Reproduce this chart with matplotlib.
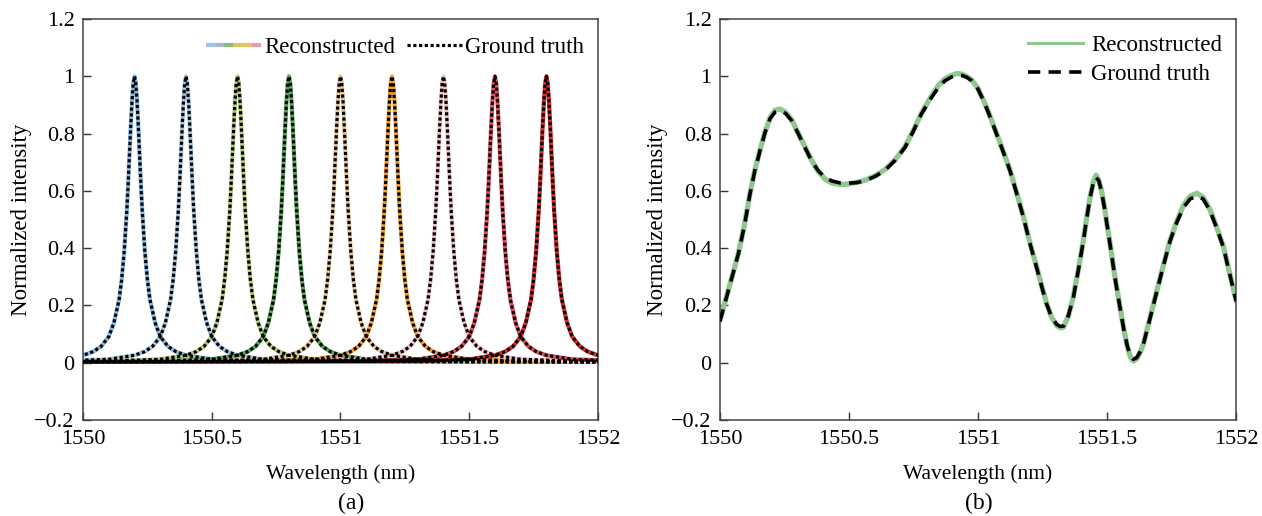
import matplotlib
matplotlib.use("Agg")
import matplotlib.pyplot as plt
from matplotlib.legend_handler import HandlerBase
from matplotlib.lines import Line2D

# ---------------- data: panel (a) ----------------
peak_centers = [1550.2, 1550.4, 1550.6, 1550.8, 1551.0, 1551.2, 1551.4, 1551.6, 1551.8]
peak_colors = ["#86b9e3", "#a6c4de", "#b4cc7c", "#5aa85a", "#e6c89e",
               "#f3a03a", "#efc4c8", "#e5505e", "#d92b2b"]
# single resonance profile (offset from centre in nm, normalized intensity)
profile_offset = [-1.8, -1.0, -0.5, -0.3, -0.2, -0.16, -0.13, -0.1, -0.08, -0.06, -0.05,
                  -0.04, -0.03, -0.025, -0.02, -0.015, -0.01, -0.005, 0.0,
                  0.005, 0.01, 0.015, 0.02, 0.025, 0.03, 0.04, 0.05, 0.06, 0.08,
                  0.1, 0.13, 0.16, 0.2, 0.3, 0.5, 1.0, 1.8]
profile_value = [0.003, 0.004, 0.006, 0.012, 0.026, 0.039, 0.057, 0.091, 0.14, 0.22, 0.29,
                 0.39, 0.53, 0.62, 0.72, 0.82, 0.91, 0.976, 1.0,
                 0.976, 0.91, 0.82, 0.72, 0.62, 0.53, 0.39, 0.29, 0.22, 0.14,
                 0.091, 0.057, 0.039, 0.026, 0.012, 0.006, 0.004, 0.003]

# ---------------- data: panel (b) ----------------
wl_b = [1550.0, 1550.035, 1550.071, 1550.095, 1550.116, 1550.135, 1550.155, 1550.175,
        1550.194, 1550.213, 1550.233, 1550.255, 1550.278, 1550.303, 1550.329, 1550.355,
        1550.381, 1550.407, 1550.433, 1550.465, 1550.497, 1550.53, 1550.562, 1550.6,
        1550.64, 1550.68, 1550.717, 1550.75, 1550.78, 1550.815, 1550.846, 1550.872,
        1550.898, 1550.918, 1550.937, 1550.956, 1550.975, 1551.0, 1551.021, 1551.046,
        1551.072, 1551.098, 1551.124, 1551.15, 1551.176, 1551.2, 1551.227, 1551.247,
        1551.266, 1551.285, 1551.305, 1551.318, 1551.331, 1551.35, 1551.369, 1551.39,
        1551.408, 1551.422, 1551.434, 1551.446, 1551.457, 1551.468, 1551.478, 1551.49,
        1551.5, 1551.512, 1551.53, 1551.55, 1551.565, 1551.578, 1551.59, 1551.602,
        1551.615, 1551.628, 1551.641, 1551.665, 1551.693, 1551.72, 1551.744, 1551.77,
        1551.796, 1551.822, 1551.848, 1551.872, 1551.899, 1551.925, 1551.951, 1551.975,
        1552.0]
truth_b = [0.145, 0.26, 0.379, 0.48, 0.588, 0.67, 0.74, 0.805,
           0.852, 0.875, 0.88, 0.87, 0.845, 0.80, 0.752, 0.705,
           0.67, 0.648, 0.635, 0.628, 0.627, 0.629, 0.636, 0.65,
           0.672, 0.708, 0.752, 0.81, 0.868, 0.92, 0.961, 0.985,
           0.998, 1.003, 1.003, 0.997, 0.985, 0.955, 0.915, 0.86,
           0.798, 0.735, 0.67, 0.59, 0.507, 0.42, 0.332, 0.265,
           0.204, 0.16, 0.134, 0.127, 0.128, 0.165, 0.227, 0.33,
           0.425, 0.51, 0.575, 0.625, 0.648, 0.635, 0.60, 0.54,
           0.48, 0.41, 0.30, 0.192, 0.115, 0.06, 0.025, 0.012,
           0.018, 0.038, 0.066, 0.15, 0.25, 0.345, 0.425, 0.49,
           0.542, 0.572, 0.582, 0.572, 0.53, 0.47, 0.402, 0.31,
           0.215]
recon_b = [0.15, 0.262, 0.38, 0.482, 0.59, 0.672, 0.742, 0.807,
           0.856, 0.882, 0.886, 0.874, 0.848, 0.802, 0.755, 0.707,
           0.668, 0.642, 0.628, 0.622, 0.624, 0.63, 0.637, 0.652,
           0.675, 0.71, 0.755, 0.812, 0.87, 0.925, 0.968, 0.992,
           1.004, 1.01, 1.008, 1.0, 0.988, 0.958, 0.917, 0.862,
           0.8, 0.737, 0.672, 0.592, 0.51, 0.422, 0.335, 0.267,
           0.206, 0.158, 0.13, 0.122, 0.124, 0.163, 0.23, 0.332,
           0.427, 0.512, 0.578, 0.63, 0.655, 0.638, 0.602, 0.542,
           0.482, 0.412, 0.302, 0.195, 0.117, 0.058, 0.02, 0.006,
           0.014, 0.036, 0.066, 0.152, 0.252, 0.347, 0.427, 0.494,
           0.55, 0.582, 0.592, 0.578, 0.534, 0.472, 0.405, 0.312,
           0.218]

xticks_a = [1550, 1550.5, 1551, 1551.5, 1552]
xticklabels = ["1550", "1550.5", "1551", "1551.5", "1552"]
yticks = [-0.2, 0, 0.2, 0.4, 0.6, 0.8, 1.0, 1.2]
yticklabels = ["\u22120.2", "0", "0.2", "0.4", "0.6", "0.8", "1", "1.2"]

plt.rcParams["font.family"] = ["Liberation Serif", "DejaVu Serif"]

fig = plt.figure(figsize=(12.62, 5.16), dpi=100)
ax_a = fig.add_axes([0.0658, 0.186, 0.408, 0.777])
ax_b = fig.add_axes([0.5705, 0.186, 0.409, 0.777])


class HandlerMulti(HandlerBase):
    def __init__(self, colors, lw=3.0, **kw):
        super().__init__(**kw)
        self.colors = colors
        self.lw = lw

    def create_artists(self, legend, orig_handle, xdescent, ydescent, width, height,
                       fontsize, trans):
        n = len(self.colors)
        arts = []
        y = height / 2 - ydescent
        for i, c in enumerate(self.colors):
            x0 = -xdescent + width * i / n
            x1 = -xdescent + width * (i + 1) / n
            ln = Line2D([x0, x1], [y, y], color=c, lw=self.lw, solid_capstyle="butt")
            ln.set_transform(trans)
            arts.append(ln)
        return arts


# ---- panel (a)
for c, col in zip(peak_centers, peak_colors):
    xs = [c + o for o in profile_offset]
    ax_a.plot(xs, profile_value, color=col, lw=3.0, solid_capstyle="butt", zorder=2)
for c in peak_centers:
    xs = [c + o for o in profile_offset]
    ax_a.plot(xs, profile_value, color="black", lw=2.3, linestyle=(0, (1.0, 0.8)), zorder=3)

rec_handle = Line2D([], [], color="#86b9e3")
gt_handle_a = Line2D([], [], color="black", lw=2.3, linestyle=(0, (1.0, 0.8)))
ax_a.legend([rec_handle, gt_handle_a], ["Reconstructed", "Ground truth"],
            ncol=2, loc="upper right", frameon=False, fontsize=16.5,
            handlelength=2.4, handletextpad=0.15, columnspacing=0.5,
            borderaxespad=0.2, bbox_to_anchor=(1.0, 0.99),
            handler_map={rec_handle: HandlerMulti(["#9fc3e6", "#a8b8c8", "#8fb87a",
                                                   "#d8c860", "#e8c070", "#e0a0b0"], lw=3.0)})

# ---- panel (b)
ax_b.plot(wl_b, recon_b, color="#8fc78f", lw=3.8, zorder=2, label="Reconstructed")
ax_b.plot(wl_b, truth_b, color="black", lw=2.6, linestyle=(0, (3.4, 2.3)), zorder=3,
          label="Ground truth")
leg_b = ax_b.legend(loc="upper right", frameon=False, fontsize=16.5, handlelength=2.4,
                    handletextpad=0.35, borderaxespad=0.2, labelspacing=0.35,
                    bbox_to_anchor=(1.0, 0.995))
leg_b.get_lines()[0].set_linewidth(2.2)

for ax in (ax_a, ax_b):
    ax.set_xlim(1550, 1552)
    ax.set_ylim(-0.2, 1.2)
    ax.set_xticks(xticks_a)
    ax.set_xticklabels(xticklabels)
    ax.set_yticks(yticks)
    ax.set_yticklabels(yticklabels)
    ax.tick_params(direction="in", length=6, width=1.0, labelsize=16, pad=6,
                   colors="#333333", labelcolor="black", top=False, right=False)
    ax.tick_params(axis="x", pad=7)
    for s in ax.spines.values():
        s.set_color("#444444")
        s.set_linewidth(1.1)
    ax.set_xlabel("Wavelength (nm)", fontsize=15.5, labelpad=11)
    ax.set_ylabel("Normalized intensity", fontsize=16.5, labelpad=2)

fig.text(0.2785, 0.024, "(a)", ha="center", va="center", fontsize=17)
fig.text(0.7755, 0.024, "(b)", ha="center", va="center", fontsize=17)

fig.savefig("out.png", dpi=100)
